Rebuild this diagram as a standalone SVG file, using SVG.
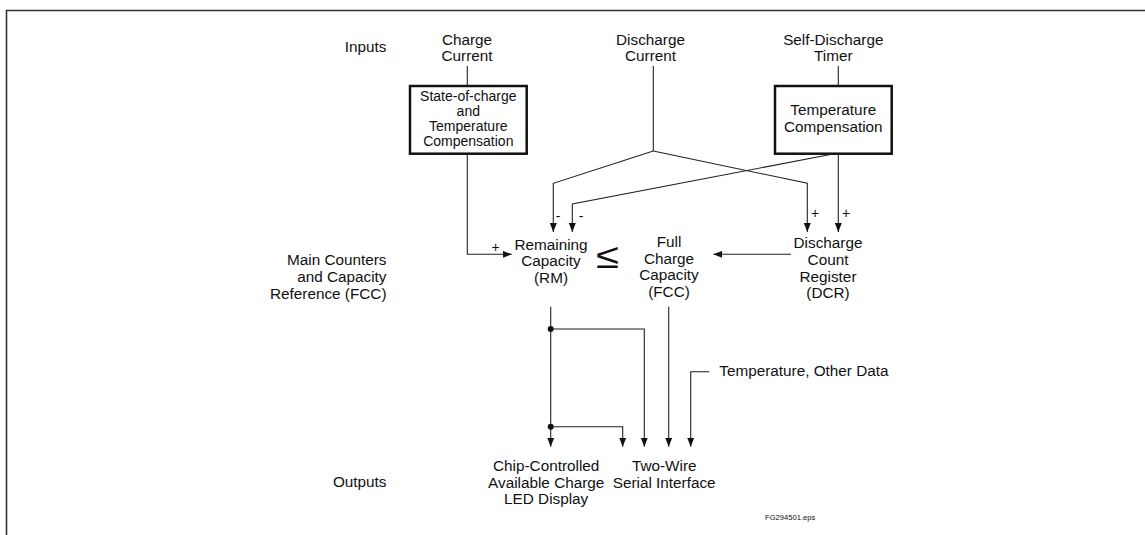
<svg xmlns="http://www.w3.org/2000/svg" width="1145" height="535" viewBox="0 0 1145 535">
<defs>
<marker id="ah" viewBox="0 0 9 7" refX="9" refY="3.5" markerWidth="9" markerHeight="7" orient="auto" markerUnits="userSpaceOnUse">
<path d="M0,0 L9,3.5 L0,7 z" fill="#111"/>
</marker>
<style>
text{font-family:"Liberation Sans",Arial,sans-serif;fill:#111;}
.t{font-size:15.3px;}
.c{text-anchor:middle;}
.r{text-anchor:end;}
.s{font-size:14px;}
.sg{font-size:14px;}
.box{fill:#fff;stroke:#111;stroke-width:2.5;}
.ln{fill:none;stroke:#222;stroke-width:1.1;}
.a{marker-end:url(#ah);}
</style>
</defs>
<rect width="1145" height="535" fill="#fff"/>
<path d="M6.5,535 V10.5 H1145" fill="none" stroke="#333" stroke-width="1.6"/>

<g id="labels">
<text class="t r" x="386.5" y="52">Inputs</text>
<text class="t r" x="386.5" y="264.5">Main Counters</text>
<text class="t r" x="386.5" y="281.5">and Capacity</text>
<text class="t r" x="386.5" y="298.5">Reference (FCC)</text>
<text class="t r" x="386.5" y="487">Outputs</text>
</g>

<g id="charge-current">
<text class="t c" x="467" y="45">Charge</text>
<text class="t c" x="467" y="61">Current</text>
</g>
<g id="discharge-current">
<text class="t c" x="650.5" y="45">Discharge</text>
<text class="t c" x="650.5" y="61">Current</text>
</g>
<g id="self-discharge-timer">
<text class="t c" x="833.3" y="45">Self-Discharge</text>
<text class="t c" x="833.3" y="61">Timer</text>
</g>

<g id="soc-comp">
<rect class="box" x="410" y="86" width="116.7" height="67.7"/>
<text class="s c" x="468.3" y="101">State-of-charge</text>
<text class="s c" x="468.3" y="116">and</text>
<text class="s c" x="468.3" y="131">Temperature</text>
<text class="s c" x="468.3" y="146">Compensation</text>
</g>
<g id="temp-comp">
<rect class="box" x="775" y="86" width="116.7" height="67.7"/>
<text class="t c" x="833.3" y="115">Temperature</text>
<text class="t c" x="833.3" y="131.5">Compensation</text>
</g>

<g id="rm">
<text class="t c" x="551" y="249.5">Remaining</text>
<text class="t c" x="551" y="266">Capacity</text>
<text class="t c" x="551" y="282.5">(RM)</text>
</g>
<g id="le">
<text class="c" x="0" y="0" style="font-size:35px" transform="translate(607.5,268) scale(1.2,1)">≤</text>
</g>
<g id="fcc">
<text class="t c" x="669" y="246.7">Full</text>
<text class="t c" x="669" y="263.5">Charge</text>
<text class="t c" x="669" y="280.2">Capacity</text>
<text class="t c" x="669" y="297">(FCC)</text>
</g>
<g id="dcr">
<text class="t c" x="828" y="248.3">Discharge</text>
<text class="t c" x="828" y="265">Count</text>
<text class="t c" x="828" y="281.7">Register</text>
<text class="t c" x="828" y="298.4">(DCR)</text>
</g>
<g id="led">
<text class="t c" x="546.2" y="471">Chip-Controlled</text>
<text class="t c" x="546.2" y="487.7">Available Charge</text>
<text class="t c" x="546.2" y="504.4">LED Display</text>
</g>
<g id="serial">
<text class="t c" x="664.2" y="471">Two-Wire</text>
<text class="t c" x="664.2" y="487.7">Serial Interface</text>
</g>
<g id="temp-data">
<text class="t" x="719.3" y="375.5">Temperature, Other Data</text>
</g>

<g id="connectors">
<path class="ln" d="M467.3,66 V86"/>
<path class="ln a" d="M467.3,154 V254.3 H511.7"/>
<path class="ln" d="M653.3,66 V151"/>
<path class="ln a" d="M653.3,151 L553.3,183.3 V232"/>
<path class="ln a" d="M653.3,151 L807.3,183.3 V232"/>
<path class="ln" d="M838.3,66 V86"/>
<path class="ln a" d="M838.3,154 V232"/>
<path class="ln a" d="M833,154 L572.3,204 V232"/>
<path class="ln a" d="M791,254.3 H713.3"/>
<path class="ln a" d="M550.7,306.7 V446.7"/>
<path class="ln a" d="M550.7,329 H644.3 V446.7"/>
<path class="ln a" d="M550.7,426.7 H622.7 V446.7"/>
<path class="ln a" d="M668.7,306.7 V446.7"/>
<path class="ln a" d="M709.3,371.7 H690.7 V446.7"/>
<circle cx="550.7" cy="329" r="3" fill="#111"/>
<circle cx="550.7" cy="426.7" r="3" fill="#111"/>
<text class="sg c" x="495.7" y="251.5">+</text>
<text class="sg c" x="558" y="220.5">-</text>
<text class="sg c" x="581" y="220.5">-</text>
<text class="sg c" x="815" y="218">+</text>
<text class="sg c" x="846" y="218">+</text>
</g>
<text x="765" y="520" style="font-size:7.6px">FG294501.eps</text>
</svg>
